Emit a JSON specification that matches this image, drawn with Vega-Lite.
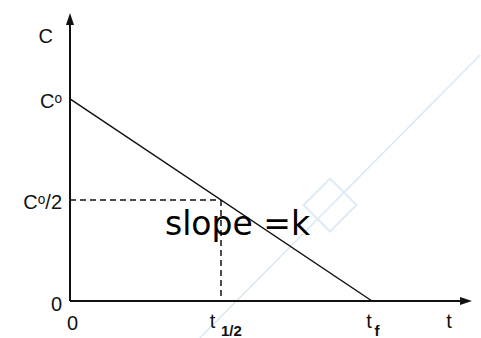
{
  "$schema": "https://vega.github.io/schema/vega-lite/v6.json",
  "autosize": "none",
  "width": 402,
  "height": 288,
  "padding": {"left": 70, "top": 13, "right": 9, "bottom": 37},
  "background": "white",
  "config": {
    "view": {"stroke": null},
    "text": {"font": "Liberation Sans", "fontSize": 20, "color": "#111"}
  },
  "data": {"values": [{}]},
  "datasets": {
    "decay": [{"t": 0, "c": 1}, {"t": 1, "c": 0}],
    "axisLines": [
      {"t": 0, "c": 0, "t2": 0, "c2": 1.39},
      {"t": 0, "c": 0, "t2": 1.30, "c2": 0}
    ],
    "halfLife": [
      {"t": 0, "c": 0.5, "t2": 0.5, "c2": 0.5},
      {"t": 0.5, "c": 0.5, "t2": 0.5, "c2": 0}
    ],
    "cTicks": [
      {"label": "Cᵒ", "c": 1},
      {"label": "Cᵒ/2", "c": 0.5},
      {"label": "0", "c": 0}
    ]
  },
  "encoding": {
    "x": {"type": "quantitative", "scale": {"domain": [0, 1.3311], "nice": false, "zero": false}, "axis": null},
    "y": {"type": "quantitative", "scale": {"domain": [0, 1.4257], "nice": false, "zero": false}, "axis": null}
  },
  "layer": [
    {
      "mark": {"type": "rule", "color": "#d8e8f5", "strokeWidth": 1.5},
      "encoding": {
        "x": {"datum": 0.43, "type": "quantitative"},
        "y": {"datum": -0.183, "type": "quantitative"},
        "x2": {"datum": 1.358},
        "y2": {"datum": 1.218}
      }
    },
    {
      "mark": {"type": "point", "shape": "square", "angle": 45, "size": 1400, "filled": false, "stroke": "#dcebf6", "strokeWidth": 2, "opacity": 1},
      "encoding": {
        "x": {"datum": 0.861, "type": "quantitative"},
        "y": {"datum": 0.475, "type": "quantitative"}
      }
    },
    {
      "data": {"name": "axisLines"},
      "mark": {"type": "rule", "color": "#111", "strokeWidth": 2},
      "encoding": {
        "x": {"field": "t", "type": "quantitative"},
        "y": {"field": "c", "type": "quantitative"},
        "x2": {"field": "t2"},
        "y2": {"field": "c2"}
      }
    },
    {
      "mark": {"type": "point", "shape": "M0,0L0.67,2L-0.67,2Z", "size": 144, "filled": true, "color": "#111", "opacity": 1},
      "encoding": {
        "x": {"datum": 0, "type": "quantitative"},
        "y": {"datum": 1.4257, "type": "quantitative"}
      }
    },
    {
      "mark": {"type": "point", "shape": "M0,0L-2,-0.67L-2,0.67Z", "size": 144, "filled": true, "color": "#111", "opacity": 1},
      "encoding": {
        "x": {"datum": 1.3311, "type": "quantitative"},
        "y": {"datum": 0, "type": "quantitative"}
      }
    },
    {
      "data": {"name": "halfLife"},
      "mark": {"type": "rule", "color": "#111", "strokeWidth": 1.5, "strokeDash": [6, 4]},
      "encoding": {
        "x": {"field": "t", "type": "quantitative"},
        "y": {"field": "c", "type": "quantitative"},
        "x2": {"field": "t2"},
        "y2": {"field": "c2"}
      }
    },
    {
      "data": {"name": "decay"},
      "mark": {"type": "line", "color": "#111", "strokeWidth": 1.5},
      "encoding": {
        "x": {"field": "t", "type": "quantitative"},
        "y": {"field": "c", "type": "quantitative"}
      }
    },
    {
      "data": {"name": "cTicks"},
      "mark": {"type": "text", "align": "right", "baseline": "alphabetic", "dx": -8, "dy": 9.5},
      "encoding": {
        "x": {"datum": 0, "type": "quantitative"},
        "y": {"field": "c", "type": "quantitative"},
        "text": {"field": "label"}
      }
    },
    {
      "mark": {"type": "text", "text": "C", "align": "right", "baseline": "alphabetic", "dx": -17, "dy": 30},
      "encoding": {
        "x": {"datum": 0, "type": "quantitative"},
        "y": {"datum": 1.4257, "type": "quantitative"}
      }
    },
    {
      "mark": {"type": "text", "text": "0", "align": "center", "baseline": "alphabetic", "dx": 2.5, "dy": 29},
      "encoding": {
        "x": {"datum": 0, "type": "quantitative"},
        "y": {"datum": 0, "type": "quantitative"}
      }
    },
    {
      "mark": {"type": "text", "text": "t", "align": "center", "baseline": "alphabetic", "dx": -8.5, "dy": 27},
      "encoding": {
        "x": {"datum": 0.5, "type": "quantitative"},
        "y": {"datum": 0, "type": "quantitative"}
      }
    },
    {
      "mark": {"type": "text", "text": "1/2", "align": "left", "baseline": "alphabetic", "fontSize": 15, "fontWeight": "bold", "dx": 0, "dy": 35},
      "encoding": {
        "x": {"datum": 0.5, "type": "quantitative"},
        "y": {"datum": 0, "type": "quantitative"}
      }
    },
    {
      "mark": {"type": "text", "text": "t", "align": "center", "baseline": "alphabetic", "dx": -3, "dy": 27},
      "encoding": {
        "x": {"datum": 1, "type": "quantitative"},
        "y": {"datum": 0, "type": "quantitative"}
      }
    },
    {
      "mark": {"type": "text", "text": "f", "align": "left", "baseline": "alphabetic", "fontSize": 15, "fontWeight": "bold", "dx": 2.5, "dy": 35},
      "encoding": {
        "x": {"datum": 1, "type": "quantitative"},
        "y": {"datum": 0, "type": "quantitative"}
      }
    },
    {
      "mark": {"type": "text", "text": "t", "align": "center", "baseline": "alphabetic", "dx": -23, "dy": 27},
      "encoding": {
        "x": {"datum": 1.3311, "type": "quantitative"},
        "y": {"datum": 0, "type": "quantitative"}
      }
    },
    {
      "mark": {"type": "text", "text": "slope =k", "font": "DejaVu Sans", "fontSize": 33, "align": "left", "baseline": "alphabetic", "dx": -56, "dy": 35, "color": "#000"},
      "encoding": {
        "x": {"datum": 0.5, "type": "quantitative"},
        "y": {"datum": 0.5, "type": "quantitative"}
      }
    }
  ]
}
